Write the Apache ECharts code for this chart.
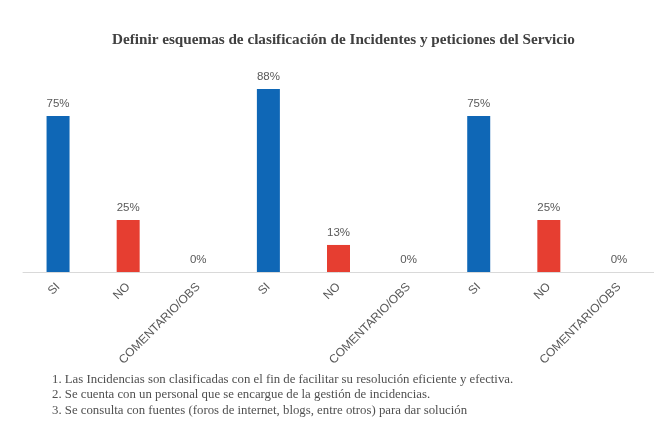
<!DOCTYPE html>
<html>
<head>
<meta charset="utf-8">
<script src="https://cdn.jsdelivr.net/npm/echarts@6/dist/echarts.min.js"></script>
<style>
  html, body { margin: 0; padding: 0; background: #fff; }
  #chart { width: 654px; height: 442px; }
</style>
</head>
<body>
<div id="chart"></div>
<script>
// Answer categories, repeated for each of the three questions
const categories = ['SI', 'NO', 'COMENTARIO/OBS', 'SI', 'NO', 'COMENTARIO/OBS', 'SI', 'NO', 'COMENTARIO/OBS'];
// Percentage of answers per category
const values = [75, 25, 0, 88, 13, 0, 75, 25, 0];
// Question texts listed under the chart
const notes = [
  '1. Las Incidencias son clasificadas con el fin de facilitar su resolución eficiente y efectiva.',
  '2. Se cuenta con un personal que se encargue de la gestión de incidencias.',
  '3. Se consulta con fuentes (foros de internet, blogs, entre otros) para dar solución'
];
const titleText = 'Definir esquemas de clasificación de Incidentes y peticiones del Servicio';

const colorFor = { 'SI': '#0f67b6', 'NO': '#e63e31', 'COMENTARIO/OBS': '#a5a5a5' };

const chart = echarts.init(document.getElementById('chart'));
chart.setOption({
  animation: false,
  backgroundColor: '#ffffff',
  title: {
    text: titleText,
    left: 107,
    top: 28,
    textStyle: {
      fontFamily: 'Liberation Serif',
      fontWeight: 'bold',
      fontSize: 15.2,
      color: '#404040'
    }
  },
  grid: { left: 23, right: 0, top: 64, bottom: 170, containLabel: false },
  xAxis: {
    type: 'category',
    data: categories,
    axisLine: { lineStyle: { color: '#d9d9d9', width: 1 } },
    axisTick: { show: false },
    axisLabel: {
      interval: 0,
      rotate: 45,
      color: '#595959',
      fontFamily: 'Liberation Sans',
      fontSize: 12,
      margin: 13
    }
  },
  yAxis: {
    type: 'value',
    min: 0,
    max: 100,
    show: false,
    splitLine: { show: false }
  },
  series: [{
    type: 'bar',
    barWidth: 23,
    data: values.map((v, i) => ({ value: v, itemStyle: { color: colorFor[categories[i]] } })),
    label: {
      show: true,
      position: 'top',
      distance: 6,
      formatter: '{c}%',
      color: '#595959',
      fontFamily: 'Liberation Sans',
      fontSize: 11.5
    }
  }],
  graphic: notes.map((t, i) => ({
    type: 'text',
    left: 52,
    top: 373 + i * 15.5,
    style: {
      text: t,
      fontFamily: 'Liberation Serif',
      fontSize: 12.8,
      fill: '#505050'
    }
  }))
});
</script>
</body>
</html>
